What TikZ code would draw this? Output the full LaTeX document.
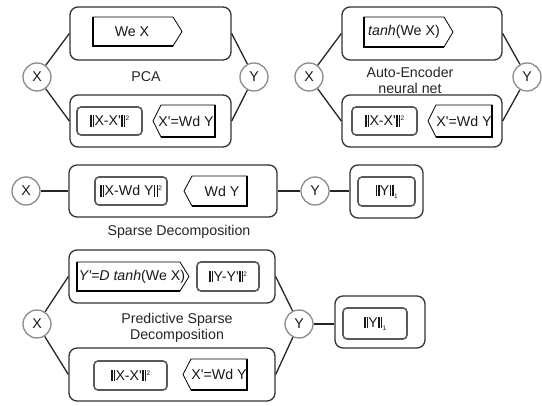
\documentclass[tikz,border=0pt]{standalone}
\usepackage{fontspec}
\setmainfont{Liberation Sans}
\begin{document}
\begin{tikzpicture}[x=1pt,y=-1pt,
  every node/.style={font=\fontsize{14.2}{16}\selectfont, text=black!90},
  outerbox/.style={draw=black!80, line width=1.3pt, rounded corners=8pt, rectangle, inner sep=0pt},
  innerbox/.style={draw=black!65, line width=1.6pt, rounded corners=4pt, rectangle, inner sep=0pt},
  circ/.style={circle, draw=black!45, line width=1.3pt, minimum size=28pt, inner sep=0pt, fill=white},
  conn/.style={line width=1.3pt, draw=black!85},
  sigthin/.style={line width=0.8pt, draw=black, line join=miter},
  sigthick/.style={line width=2pt, draw=black, line join=miter},
  lbl/.style={align=center, text=black!85, font=\fontsize{14.2}{16}\selectfont}
]
\newcommand\nbar{\kern0.3pt\rule[-0.6pt]{1.5pt}{11.2pt}\kern1.1pt\rule[-0.6pt]{1.5pt}{11.2pt}\kern0.3pt}
\newcommand\sqr{\raisebox{5pt}{\fontsize{6.5}{6.5}\selectfont 2}}
\newcommand\one{\raisebox{-2.5pt}{\fontsize{6.5}{6.5}\selectfont 1}}
\newcommand\pr{\textquotesingle}
% encoder: name, x1, y1, x2, y2, textx, text
\newcommand\encbox[7]{%
  \draw[sigthin, fill=white] (#2,#3) -- ({#4-9},#3) -- (#4,{(#3+#5)/2}) -- ({#4-9},#5) -- (#2,#5) -- cycle;
  \draw[sigthick] (#2,#3) -- (#2,#5) -- ({#4-9},#5);
  \node[inner sep=0pt] (#1) at (#6,{(#3+#5)/2}) {#7};
}
% decoder: name, x1, y1, x2, y2, textx, text
\newcommand\decbox[7]{%
  \draw[sigthin, fill=white] (#4,#3) -- ({#2+8},#3) -- (#2,{(#3+#5)/2}) -- ({#2+8},#5) -- (#4,#5) -- cycle;
  \draw[sigthick] (#4,#3) -- (#4,#5) -- ({#2+8},#5);
  \node[inner sep=0pt] (#1) at (#6,{(#3+#5)/2}) {#7};
}
\fill[white] (0,0) rectangle (542,406);
\useasboundingbox (0,0) rectangle (542,406);

% ---------------- PCA ----------------
\node[outerbox, minimum width=161pt, minimum height=53pt] (pcaTop) at (150.5,33.5) {};
\node[outerbox, minimum width=161pt, minimum height=52pt] (pcaBot) at (150.5,121) {};
\node[circ] (pcaX) at (37,77) {X};
\node[circ] (pcaY) at (254,77) {Y};
\draw[conn] (pcaX) -- (pcaTop.west);
\draw[conn] (pcaX) -- (pcaBot.west);
\draw[conn] (pcaY) -- (pcaTop.east);
\draw[conn] (pcaY) -- (pcaBot.east);
\encbox{pcaEnc}{93}{17}{182}{46}{132}{We X}
\node[innerbox, minimum width=65pt, minimum height=28pt] (pcaErr) at (109.5,121) {\nbar X-X\pr\nbar\sqr};
\decbox{pcaDec}{153}{105}{215}{137}{186}{X\pr=Wd Y}
\node[lbl] (pcaLbl) at (146,77) {PCA};

% ---------------- Auto-Encoder ----------------
\node[outerbox, minimum width=160pt, minimum height=53pt] (aeTop) at (422,33.5) {};
\node[outerbox, minimum width=160pt, minimum height=52pt] (aeBot) at (422,121) {};
\node[circ] (aeX) at (309,77) {X};
\node[circ] (aeY) at (527,77) {Y};
\draw[conn] (aeX) -- (aeTop.west);
\draw[conn] (aeX) -- (aeBot.west);
\draw[conn] (aeY) -- (aeTop.east);
\draw[conn] (aeY) -- (aeBot.east);
\encbox{aeEnc}{364}{17}{453}{47}{404}{\textit{tanh}(We X)}
\node[innerbox, minimum width=65pt, minimum height=28pt] (aeErr) at (384.5,121) {\nbar X-X\pr\nbar\sqr};
\decbox{aeDec}{428}{105}{492}{137}{464}{X\pr=Wd Y}
\node[lbl] (aeLbl) at (410,80) {Auto-Encoder\\neural net};

% ---------------- Sparse Decomposition ----------------
\node[outerbox, minimum width=208pt, minimum height=52pt] (sdBox) at (173,191) {};
\node[outerbox, minimum width=73pt, minimum height=53pt] (sdL1) at (386.5,191.5) {};
\node[circ] (sdX) at (26,191) {X};
\node[circ] (sdY) at (315,191) {Y};
\draw[conn] (sdX) -- (sdBox.west);
\draw[conn] (sdBox.east) -- (sdY);
\draw[conn] (sdY) -- (sdL1.west |- sdY);
\node[innerbox, minimum width=72pt, minimum height=28pt] (sdErr) at (131,191) {\nbar X-Wd Y\nbar\sqr};
\decbox{sdDec}{184}{176}{247}{206}{222}{Wd Y}
\node[innerbox, minimum width=57pt, minimum height=29pt] (sdNorm) at (386.5,191.5) {\nbar Y\nbar\one};
\node[lbl] (sdLbl) at (179,232) {Sparse Decomposition};

% ---------------- Predictive Sparse Decomposition ----------------
\node[outerbox, minimum width=206pt, minimum height=53pt] (psdTop) at (172,276.5) {};
\node[outerbox, minimum width=206pt, minimum height=53pt] (psdBot) at (172,374.5) {};
\node[outerbox, minimum width=90pt, minimum height=52pt] (psdL1) at (380,322) {};
\node[circ] (psdX) at (37,324) {X};
\node[circ] (psdY) at (299,324) {Y};
\draw[conn] (psdX) -- (psdTop.west);
\draw[conn] (psdX) -- (psdBot.west);
\draw[conn] (psdY) -- (psdTop.east);
\draw[conn] (psdY) -- (psdBot.east);
\draw[conn] (psdY) -- (psdL1.west |- psdY);
\encbox{psdEnc}{77}{262}{189}{291}{132}{\textit{Y\pr=D tanh}(We X)}
\node[innerbox, minimum width=62pt, minimum height=29pt] (psdPred) at (228,276.5) {\nbar Y-Y\pr\nbar\sqr};
\node[innerbox, minimum width=73pt, minimum height=29pt] (psdErr) at (130.5,375.5) {\nbar X-X\pr\nbar\sqr};
\decbox{psdDec}{183}{359}{247}{390}{219}{X\pr=Wd Y}
\node[innerbox, minimum width=64pt, minimum height=31pt] (psdNorm) at (375,323.5) {\nbar Y\nbar\one};
\node[lbl] (psdLbl) at (177,328) {Predictive Sparse\\Decomposition};
\end{tikzpicture}
\end{document}
